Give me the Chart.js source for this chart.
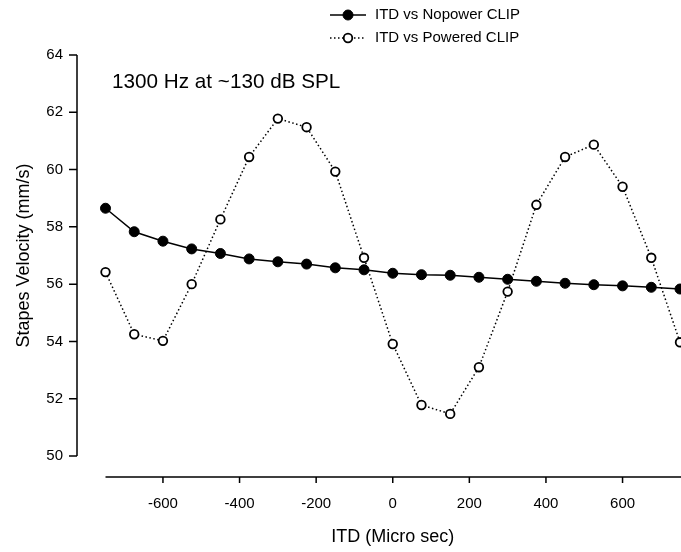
<!DOCTYPE html>
<html>
<head>
<meta charset="utf-8">
<title>Stapes velocity vs ITD</title>
<script src="https://cdn.jsdelivr.net/npm/chart.js@4.4.1/dist/chart.umd.min.js"></script>
<style>
  html, body { margin: 0; padding: 0; background: #fff; }
  canvas { display: block; }
</style>
</head>
<body>
<canvas id="itd-chart" width="681" height="552"></canvas>
<script>
// ITD in microseconds, one sample every 75 us
const itdValues = [-750, -675, -600, -525, -450, -375, -300, -225, -150, -75, 0,
  75, 150, 225, 300, 375, 450, 525, 600, 675, 750];

// stapes velocity (mm/s)
const nopowerVelocity = [58.65, 57.83, 57.5, 57.23, 57.07, 56.88, 56.78, 56.7, 56.57, 56.5, 56.38,
  56.33, 56.31, 56.24, 56.17, 56.1, 56.03, 55.98, 55.94, 55.89, 55.83];
const poweredVelocity = [56.42, 54.25, 54.02, 56.0, 58.26, 60.44, 61.78, 61.48, 59.93, 56.92, 53.91,
  51.78, 51.47, 53.1, 55.74, 58.77, 60.44, 60.87, 59.4, 56.92, 53.97];

const seriesNames = ["ITD vs Nopower CLIP", "ITD vs Powered CLIP"];
const xTickValues = [-600, -400, -200, 0, 200, 400, 600];
const yTickValues = [50, 52, 54, 56, 58, 60, 62, 64];
const noteText = "1300 Hz at ~130 dB SPL";

const fontFamily = "'Liberation Sans', Arial, sans-serif";
const ink = "#000";
const dotDash = [1.5, 2.5];

// gap between the plot and the detached axis lines
const yAxisGap = 28.5;
const xAxisGap = 21;

// draws the detached axis lines and their tick marks
const offsetAxes = {
  id: "offsetAxes",
  afterDraw(chart) {
    const ctx = chart.ctx;
    const area = chart.chartArea;
    const x = chart.scales.x;
    const y = chart.scales.y;
    const axisX = area.left - yAxisGap;
    const axisY = area.bottom + xAxisGap;

    ctx.save();
    ctx.strokeStyle = ink;
    ctx.lineWidth = 1.5;
    ctx.beginPath();
    ctx.moveTo(axisX, y.getPixelForValue(yTickValues[yTickValues.length - 1]));
    ctx.lineTo(axisX, y.getPixelForValue(yTickValues[0]));
    yTickValues.forEach(function (v) {
      const py = y.getPixelForValue(v);
      ctx.moveTo(axisX - 8, py);
      ctx.lineTo(axisX, py);
    });
    ctx.moveTo(x.getPixelForValue(itdValues[0]), axisY);
    ctx.lineTo(chart.width, axisY);
    xTickValues.forEach(function (v) {
      const px = x.getPixelForValue(v);
      ctx.moveTo(px, axisY);
      ctx.lineTo(px, axisY + 6);
    });
    ctx.stroke();
    ctx.restore();
  }
};

// legend in the top right and the note inside the plot
const legendAndNote = {
  id: "legendAndNote",
  afterDraw(chart) {
    const ctx = chart.ctx;
    ctx.save();
    chart.data.datasets.forEach(function (ds, i) {
      const cy = 15 + i * 23;
      ctx.strokeStyle = ink;
      ctx.lineWidth = 1.5;
      ctx.setLineDash(ds.borderDash || []);
      ctx.beginPath();
      ctx.moveTo(330, cy);
      ctx.lineTo(366, cy);
      ctx.stroke();
      ctx.setLineDash([]);
      ctx.beginPath();
      ctx.arc(348, cy, ds.pointRadius, 0, Math.PI * 2);
      ctx.fillStyle = ds.pointBackgroundColor;
      ctx.fill();
      ctx.lineWidth = ds.pointBorderWidth;
      ctx.stroke();

      ctx.fillStyle = ink;
      ctx.font = "15px " + fontFamily;
      ctx.textBaseline = "middle";
      ctx.textAlign = "left";
      ctx.fillText(ds.label, 375, cy);
    });

    ctx.font = "20.7px " + fontFamily;
    ctx.textBaseline = "alphabetic";
    ctx.fillStyle = ink;
    ctx.fillText(noteText, 112, 88);
    ctx.restore();
  }
};

new Chart(document.getElementById("itd-chart"), {
  type: "line",
  data: {
    labels: itdValues,
    datasets: [
      {
        label: seriesNames[0],
        data: itdValues.map((v, i) => ({ x: v, y: nopowerVelocity[i] })),
        borderColor: ink,
        borderWidth: 1.5,
        pointRadius: 5,
        pointBackgroundColor: ink,
        pointBorderColor: ink,
        pointBorderWidth: 1,
        tension: 0,
        clip: false
      },
      {
        label: seriesNames[1],
        data: itdValues.map((v, i) => ({ x: v, y: poweredVelocity[i] })),
        borderColor: ink,
        borderWidth: 1.5,
        borderDash: dotDash,
        pointRadius: 4.3,
        pointBackgroundColor: "#fff",
        pointBorderColor: ink,
        pointBorderWidth: 1.8,
        tension: 0,
        clip: false
      }
    ]
  },
  options: {
    responsive: false,
    animation: false,
    events: [],
    layout: { autoPadding: false, padding: { top: 55, right: 1, left: 0, bottom: 0 } },
    plugins: {
      legend: { display: false },
      tooltip: { enabled: false }
    },
    scales: {
      x: {
        type: "linear",
        min: -750,
        max: 750,
        afterBuildTicks(scale) {
          scale.ticks = xTickValues.map(v => ({ value: v }));
        },
        afterFit(scale) {
          scale.height = 96;
        },
        border: { display: false },
        grid: { drawOnChartArea: false, drawTicks: true, tickLength: 27, tickColor: "rgba(0,0,0,0)" },
        ticks: {
          padding: 12,
          color: ink,
          maxRotation: 0,
          autoSkip: false,
          font: { family: fontFamily, size: 15 }
        },
        title: {
          display: true,
          text: "ITD (Micro sec)",
          color: ink,
          font: { family: fontFamily, size: 18 },
          padding: { top: 0, bottom: 4 }
        }
      },
      y: {
        min: 50,
        max: 64,
        afterBuildTicks(scale) {
          scale.ticks = yTickValues.map(v => ({ value: v }));
        },
        afterFit(scale) {
          scale.width = 105.5;
        },
        border: { display: false },
        grid: { drawOnChartArea: false, drawTicks: true, tickLength: 36.5, tickColor: "rgba(0,0,0,0)" },
        ticks: {
          padding: 6,
          color: ink,
          font: { family: fontFamily, size: 15 }
        },
        title: {
          display: true,
          text: "Stapes Velocity (mm/s)",
          color: ink,
          font: { family: fontFamily, size: 18 },
          padding: { top: 13, bottom: 0 }
        }
      }
    }
  },
  plugins: [offsetAxes, legendAndNote]
});
</script>
</body>
</html>
